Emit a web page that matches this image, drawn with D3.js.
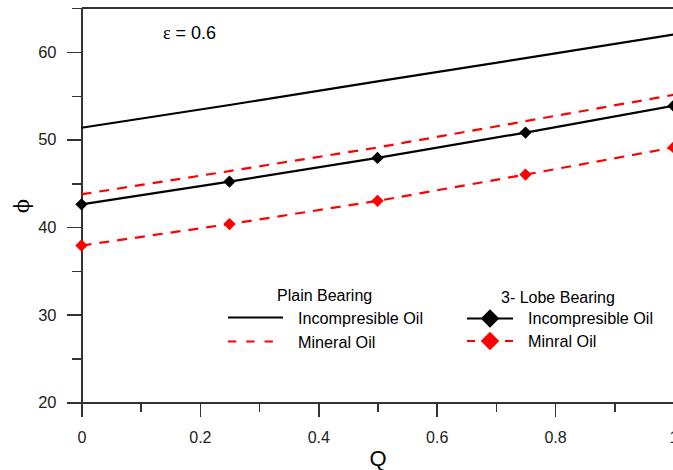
<!DOCTYPE html>
<html>
<head>
<meta charset="utf-8">
<script src="https://cdn.jsdelivr.net/npm/d3@7"></script>
<style>
  body { margin: 0; background: #fff; }
  svg { display: block; font-family: "Liberation Sans", Arial, sans-serif; }
  .axis path, .axis line { stroke: #333; stroke-width: 1.5; shape-rendering: crispEdges; }
  .axis text { fill: #222; }
</style>
</head>
<body>
<div id="chart"></div>
<script>
// flow rate Q against attitude angle, eccentricity 0.6
var qValues = [0, 0.25, 0.5, 0.75, 1];
var plainIncompressible = [51.35, 53.95, 56.65, 59.3, 62.0];
var plainMineral = [43.75, 46.4, 49.1, 52.1, 55.1];
var lobeIncompressible = [42.6, 45.2, 47.9, 50.8, 53.85];
var lobeMineral = [37.9, 40.35, 43.0, 46.0, 49.1];

var xTicks = [0, 0.2, 0.4, 0.6, 0.8, 1];
var xMinorTicks = [0.1, 0.3, 0.5, 0.7, 0.9];
var yTicks = [20, 30, 40, 50, 60];
var yMinorTicks = [25, 35, 45, 55, 65];

var width = 673, height = 470;

var svg = d3.select('#chart')
            .append('svg')
            .attr('width', width)
            .attr('height', height);

var xScale = d3.scaleLinear().domain([0, 1]).range([81.5, 673.5]);
var yScale = d3.scaleLinear().domain([20, 65]).range([402.3, 8.2]);

// top frame line
svg.append('line')
    .attr('x1', xScale(0)).attr('x2', width)
    .attr('y1', yScale(65)).attr('y2', yScale(65))
    .attr('stroke', '#333').attr('stroke-width', 1.5)
    .attr('shape-rendering', 'crispEdges');

// minor ticks first, then the labelled axes
svg.append('g')
    .attr('class', 'axis')
    .attr('transform', 'translate(0,' + yScale(20) + ')')
    .call(d3.axisBottom(xScale).tickValues(xMinorTicks).tickSize(10).tickFormat('').tickSizeOuter(0));

svg.append('g')
    .attr('class', 'axis')
    .attr('transform', 'translate(' + xScale(0) + ',0)')
    .call(d3.axisLeft(yScale).tickValues(yMinorTicks).tickSize(10).tickFormat('').tickSizeOuter(0));

svg.append('g')
    .attr('class', 'axis')
    .attr('transform', 'translate(0,' + yScale(20) + ')')
    .call(d3.axisBottom(xScale).tickValues(xTicks).tickSize(15).tickPadding(14).tickSizeOuter(0)
            .tickFormat(function(d) { return d === 0 || d === 1 ? d : d3.format('.1f')(d); }))
    .selectAll('text')
    .style('font-size', '16px');

svg.append('g')
    .attr('class', 'axis')
    .attr('transform', 'translate(' + xScale(0) + ',0)')
    .call(d3.axisLeft(yScale).tickValues(yTicks).tickSize(15).tickPadding(10).tickSizeOuter(0))
    .selectAll('text')
    .style('font-size', '16.5px');

// axis titles
svg.append('text')
    .attr('x', 378).attr('y', 466)
    .attr('text-anchor', 'middle')
    .style('font-size', '22px')
    .text('Q');

svg.append('text')
    .attr('transform', 'translate(29,206) rotate(-90)')
    .attr('text-anchor', 'middle')
    .style('font-family', '"DejaVu Serif", "Liberation Serif", serif')
    .style('font-size', '21px')
    .text('\u03d5');

var eps = svg.append('text')
    .attr('x', 163).attr('y', 39)
    .style('font-size', '18px');
eps.append('tspan').style('font-family', '"Liberation Serif", serif').text('\u03b5');
eps.append('tspan').text(' = 0.6');

var line = d3.line()
    .x(function(d) { return xScale(d[0]); })
    .y(function(d) { return yScale(d[1]); });

var series = [
    { values: plainIncompressible, color: '#000', dash: null, marker: false },
    { values: plainMineral, color: '#ff0000', dash: '10,8', marker: false },
    { values: lobeIncompressible, color: '#000', dash: null, marker: true },
    { values: lobeMineral, color: '#ff0000', dash: '10,8', marker: true }
];

var diamond = d3.symbol().type(d3.symbolSquare).size(76);
var legendDiamond = d3.symbol().type(d3.symbolSquare).size(170);

series.forEach(function(s) {
    var pts = qValues.map(function(q, i) { return [q, s.values[i]]; });

    svg.append('path')
        .datum(pts)
        .attr('d', line)
        .attr('fill', 'none')
        .attr('stroke', s.color)
        .attr('stroke-width', 2.2)
        .attr('stroke-dasharray', s.dash);

    if (s.marker) {
        svg.selectAll(null)
            .data(pts)
            .enter()
            .append('path')
            .attr('d', diamond)
            .attr('transform', function(d) {
                return 'translate(' + xScale(d[0]) + ',' + yScale(d[1]) + ') rotate(45)';
            })
            .attr('fill', s.color);
    }
});

// legend
var legend = svg.append('g').style('font-size', '16.2px');

legend.append('text').attr('x', 277).attr('y', 295).attr('dy', '0.35em')
    .style('font-size', '16px').text('Plain Bearing');
legend.append('text').attr('x', 501).attr('y', 297).attr('dy', '0.35em')
    .style('font-size', '16px').text('3- Lobe Bearing');

legend.append('line')
    .attr('x1', 228).attr('x2', 283).attr('y1', 317.5).attr('y2', 317.5)
    .attr('stroke', '#000').attr('stroke-width', 2);
legend.append('text').attr('x', 298).attr('y', 318.5).attr('dy', '0.35em').text('Incompresible Oil');

legend.append('line')
    .attr('x1', 228).attr('x2', 274).attr('y1', 341.5).attr('y2', 341.5)
    .attr('stroke', '#ff0000').attr('stroke-width', 2)
    .attr('stroke-dasharray', '8.3,10');
legend.append('text').attr('x', 298).attr('y', 342).attr('dy', '0.35em').text('Mineral Oil');

legend.append('line')
    .attr('x1', 467).attr('x2', 513).attr('y1', 318.5).attr('y2', 318.5)
    .attr('stroke', '#000').attr('stroke-width', 2);
legend.append('path')
    .attr('d', legendDiamond)
    .attr('transform', 'translate(490,318.5) rotate(45)')
    .attr('fill', '#000');
legend.append('text').attr('x', 528).attr('y', 318.5).attr('dy', '0.35em').text('Incompresible Oil');

[[467, 475], [505, 513]].forEach(function(seg) {
    legend.append('line')
        .attr('x1', seg[0]).attr('x2', seg[1]).attr('y1', 341).attr('y2', 341)
        .attr('stroke', '#ff0000').attr('stroke-width', 2);
});
legend.append('path')
    .attr('d', legendDiamond)
    .attr('transform', 'translate(490,341) rotate(45)')
    .attr('fill', '#ff0000');
legend.append('text').attr('x', 528).attr('y', 341).attr('dy', '0.35em').text('Minral Oil');
</script>
</body>
</html>
